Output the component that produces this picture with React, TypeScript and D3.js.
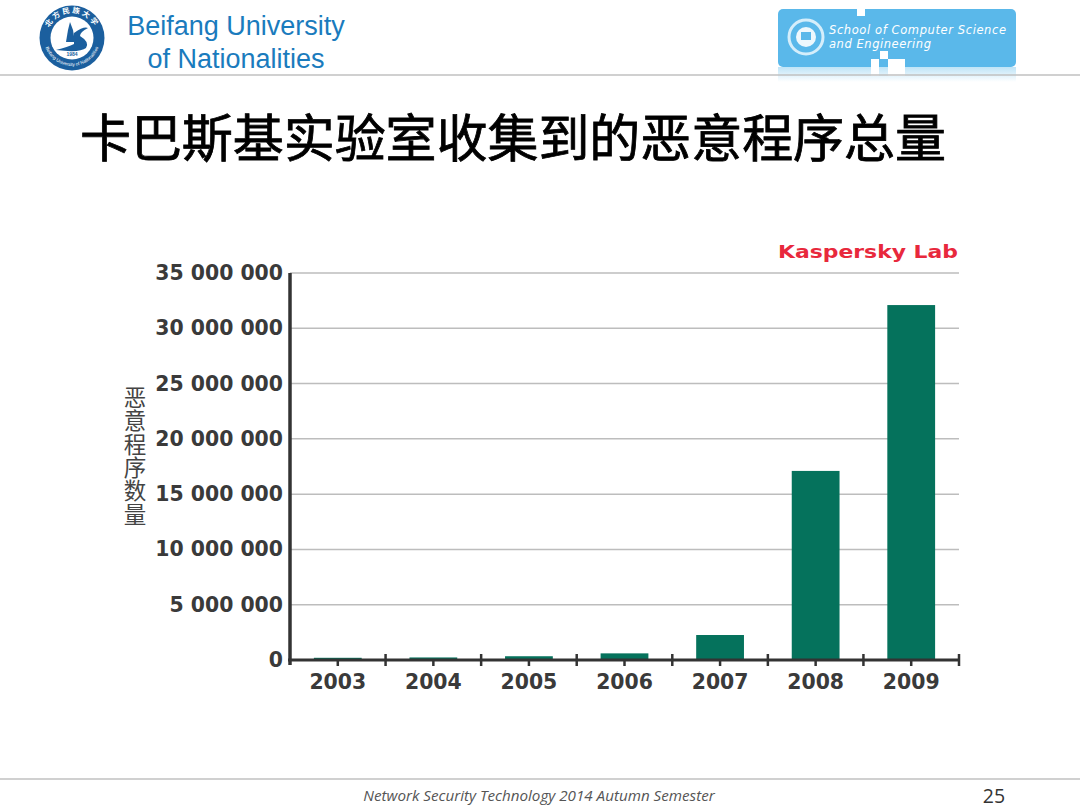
import { axisBottom, axisLeft, format, scaleBand, scaleLinear, select } from 'd3'
import { useEffect, useRef } from 'react'

const WIDTH = 1080
const HEIGHT = 810
const MARGINS = { top: 273, right: 121, bottom: 150, left: 290 }

const years = ['2003', '2004', '2005', '2006', '2007', '2008', '2009']
const malwareTotals = [200000, 230000, 340000, 600000, 2260000, 17100000, 32100000]
const yTicks = [0, 5000000, 10000000, 15000000, 20000000, 25000000, 30000000, 35000000]
const yAxisTitle = '恶意程序数量'

const SANS = 'Liberation Sans, Arial, sans-serif'
const LABEL_FONT = 'DejaVu Sans'
const CJK = 'Noto Sans CJK SC'
const BAR_COLOR = '#05725c'
const TEXT_COLOR = '#3a3a3a'
const AXIS_COLOR = '#333'
const NAVY = '#1b5f9e'
const BLUE_TEXT = '#1a7bbd'
const BANNER = '#5ab8ea'

const formatTick = (value: number) => format(',')(value).replace(/,/g, ' ')

const Chart = () => {
  const axisRef = useRef<SVGGElement>(null)
  const plotRight = WIDTH - MARGINS.right
  const plotBottom = HEIGHT - MARGINS.bottom
  const x = scaleBand<string>()
    .domain(years)
    .range([MARGINS.left, plotRight])
    .paddingInner(0.5)
    .paddingOuter(0.25)
  const y = scaleLinear().domain([0, 35000000]).range([plotBottom, MARGINS.top])

  useEffect(() => {
    if (!axisRef.current) return
    const root = select(axisRef.current)
    root.selectAll('*').remove()

    const left = root
      .append('g')
      .attr('transform', `translate(${MARGINS.left},0)`)
      .call(axisLeft(y).tickValues(yTicks).tickSize(0).tickPadding(7).tickFormat((d) => formatTick(+d)))
    left
      .select('.domain')
      .attr('d', `M0,${MARGINS.top}V${plotBottom + 5}`)
      .attr('stroke', AXIS_COLOR)
      .attr('stroke-width', 3.5)

    const bottom = root
      .append('g')
      .attr('transform', `translate(0,${plotBottom})`)
      .call(axisBottom(x).tickSize(6).tickPadding(9))
    bottom
      .select('.domain')
      .attr('d', `M${MARGINS.left - 2},0H${plotRight}`)
      .attr('stroke', AXIS_COLOR)
      .attr('stroke-width', 3)
    bottom.selectAll('line').attr('stroke', AXIS_COLOR).attr('stroke-width', 2.5)

    root
      .selectAll('text')
      .attr('font-family', LABEL_FONT)
      .attr('font-size', 20.4)
      .attr('font-weight', 700)
      .attr('fill', TEXT_COLOR)
  }, [])

  const step = x.step()
  const boundaries = years.map((year) => (x(year) ?? 0) + x.bandwidth() / 2 + step / 2)

  return (
    <g>
      {yTicks.slice(1).map((tick) => (
        <line key={tick} x1={MARGINS.left} x2={plotRight} y1={y(tick)} y2={y(tick)} stroke="#bdbdbd" strokeWidth={1.5} />
      ))}
      {years.map((year, i) => (
        <rect
          key={year}
          x={x(year)}
          y={y(malwareTotals[i])}
          width={x.bandwidth()}
          height={plotBottom - y(malwareTotals[i])}
          fill={BAR_COLOR}
        />
      ))}
      <g ref={axisRef} />
      {boundaries.map((bx) => (
        <line key={bx} x1={bx} x2={bx} y1={plotBottom - 6} y2={plotBottom + 6} stroke={AXIS_COLOR} strokeWidth={2.5} />
      ))}
      <text
        x={778}
        y={258}
        fontFamily={LABEL_FONT}
        fontSize={17}
        fontWeight={700}
        fill="#e8283c"
        textLength={180}
        lengthAdjust="spacingAndGlyphs"
      >
        Kaspersky Lab
      </text>
      <text
        x={135}
        y={386}
        fontFamily={CJK}
        fontSize={22.5}
        letterSpacing={0.9}
        fill="#444"
        style={{ writingMode: 'vertical-rl' }}
      >
        {yAxisTitle}
      </text>
    </g>
  )
}

const Logo = () => (
  <g>
    <defs>
      <path id="sealTop" d="M47 38 A25 25 0 0 1 97 38" />
      <path id="sealBottom" d="M44 38 A28 28 0 0 0 100 38" />
    </defs>
    <circle cx={72} cy={38} r={32.5} fill={NAVY} />
    <circle cx={72} cy={38} r={21.5} fill="#fff" />
    <text fontFamily={CJK} fontSize={7.5} fontWeight={700} fill="#fff" letterSpacing={2}>
      <textPath href="#sealTop" startOffset="50%" textAnchor="middle">北方民族大学</textPath>
    </text>
    <text fontFamily={SANS} fontSize={4.6} fill="#fff">
      <textPath href="#sealBottom" startOffset="50%" textAnchor="middle">Beifang University of Nationalities</textPath>
    </text>
    <path d="M70 22 L73 30 L75 42 L66 42 L68 30 Z" fill={NAVY} />
    <path d="M74 33 Q84 26 88 28 Q80 32 80 36 Q90 42 86 48 Q80 53 56 50 Q68 47 74 44 Z" fill={NAVY} />
    <text x={72} y={56} textAnchor="middle" fontFamily={SANS} fontSize={5} fontWeight={700} fill={NAVY}>1984</text>
  </g>
)

const Banner = () => (
  <g>
    <defs>
      <linearGradient id="bannerFade" x1="0" y1="0" x2="0" y2="1">
        <stop offset="0" stopColor="#bfe4f7" />
        <stop offset="1" stopColor="#ffffff" />
      </linearGradient>
    </defs>
    <rect x={778} y={67} width={238} height={15} fill="url(#bannerFade)" />
    <rect x={778} y={9} width={238} height={58} rx={5} fill={BANNER} />
    <rect x={857} y={9} width={8} height={7} fill="#fff" />
    <rect x={880} y={51} width={8} height={8} fill="#fff" />
    <rect x={871} y={59} width={8} height={17} fill="#fff" />
    <rect x={888} y={59} width={17} height={17} fill="#fff" />
    <circle cx={806} cy={37} r={17} fill="none" stroke="#d5eefb" strokeWidth={3} />
    <circle cx={806} cy={37} r={10} fill="#eef8fd" />
    <rect x={801} y={32} width={10} height={8} fill={BANNER} />
    <text x={829} y={34} fontFamily="DejaVu Sans" fontStyle="italic" fontSize={11.5} fill="#fff" textLength={177}>
      School of Computer Science
    </text>
    <text x={829} y={48} fontFamily="DejaVu Sans" fontStyle="italic" fontSize={11.5} fill="#fff" textLength={102}>
      and Engineering
    </text>
  </g>
)

const Header = () => (
  <g>
    <Logo />
    <text x={236} y={35} textAnchor="middle" fontFamily={SANS} fontSize={27} fill={BLUE_TEXT}>Beifang University</text>
    <text x={236} y={68} textAnchor="middle" fontFamily={SANS} fontSize={27} fill={BLUE_TEXT}>of Nationalities</text>
    <Banner />
    <line x1={0} x2={WIDTH} y1={75} y2={75} stroke="#c0c0c0" strokeWidth={1.5} />
    <text
      x={513}
      y={157}
      textAnchor="middle"
      fontFamily={CJK}
      fontSize={51}
      fill="#000"
      stroke="#000"
      strokeWidth={0.8}
      textLength={866}
    >
      卡巴斯基实验室收集到的恶意程序总量
    </text>
  </g>
)

const Footer = () => (
  <g>
    <line x1={0} x2={WIDTH} y1={779} y2={779} stroke="#c0c0c0" strokeWidth={1.5} />
    <text x={539} y={801} textAnchor="middle" fontFamily="Open Sans" fontStyle="italic" fontSize={15.2} fill="#555">
      Network Security Technology 2014 Autumn Semester
    </text>
    <text x={994} y={803} textAnchor="middle" fontFamily="Open Sans" fontSize={19.5} fill="#333">25</text>
  </g>
)

export default function App() {
  return (
    <svg
      width={WIDTH}
      height={HEIGHT}
      viewBox={`0 0 ${WIDTH} ${HEIGHT}`}
      style={{ position: 'absolute', left: 0, top: 0, background: '#fff' }}
    >
      <Header />
      <Chart />
      <Footer />
    </svg>
  )
}
